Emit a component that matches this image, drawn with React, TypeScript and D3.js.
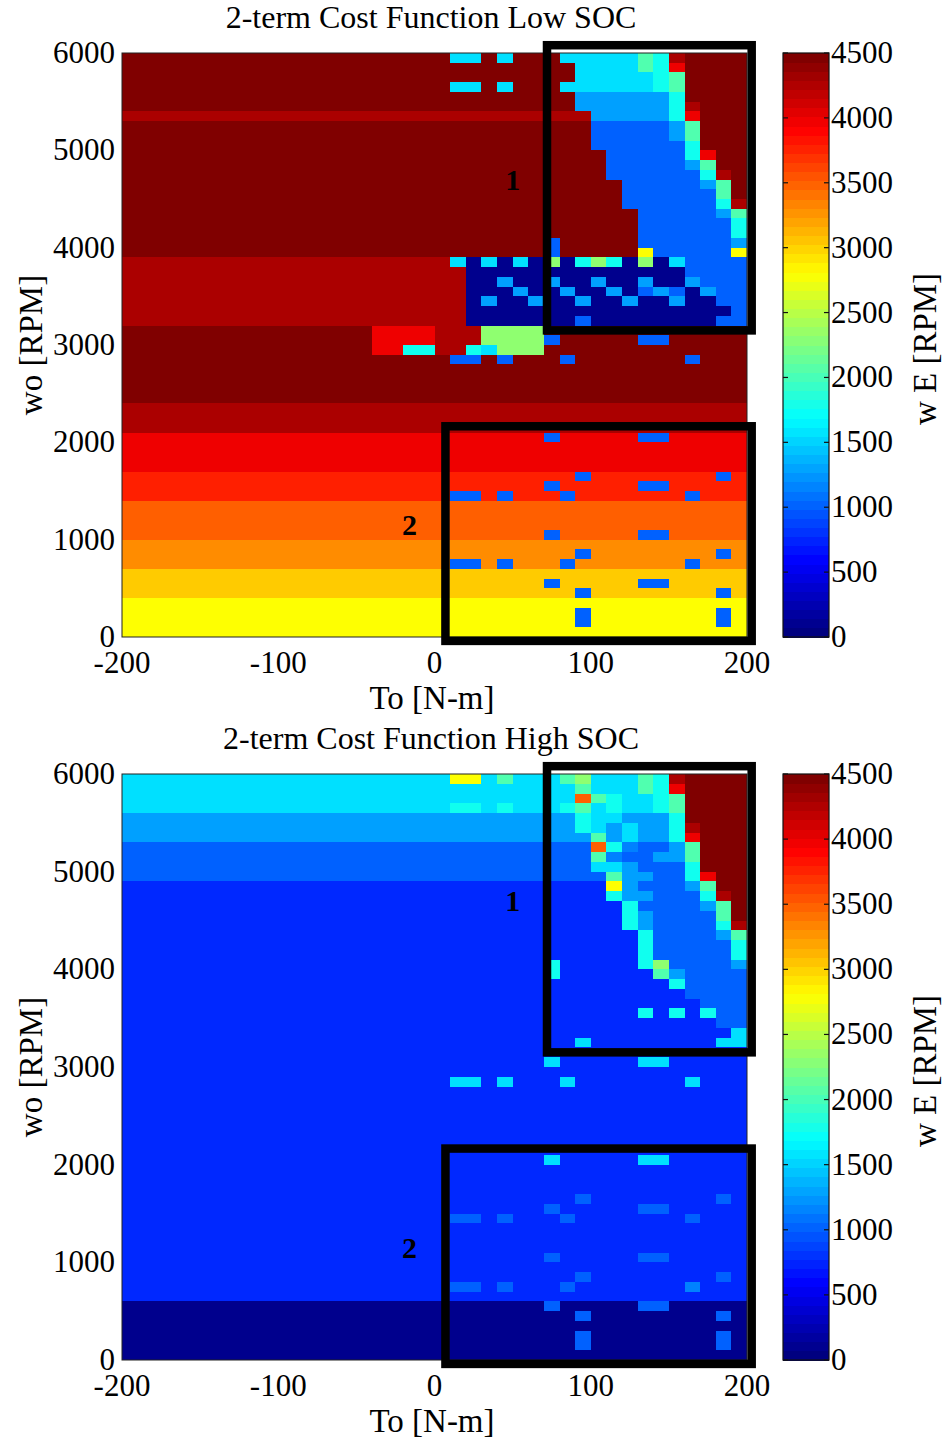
import React from "react";
import * as d3 from "d3";

// ---- bins (cell lower edges) ----
const torqueBins = [-200, -190, -180, -170, -160, -150, -140, -130, -120, -110, -100, -90, -80, -70, -60, -50, -40, -30, -20, -10, 0, 10, 20, 30, 40, 50, 60, 70, 80, 90, 100, 110, 120, 130, 140, 150, 160, 170, 180, 190];
const speedBins = [5900, 5800, 5700, 5600, 5500, 5400, 5300, 5200, 5100, 5000, 4900, 4800, 4700, 4600, 4500, 4400, 4300, 4200, 4100, 4000, 3900, 3800, 3700, 3600, 3500, 3400, 3300, 3200, 3100, 3000, 2900, 2800, 2700, 2600, 2500, 2400, 2300, 2200, 2100, 2000, 1900, 1800, 1700, 1600, 1500, 1400, 1300, 1200, 1100, 1000, 900, 800, 700, 600, 500, 400, 300, 200, 100, 0];
const TORQUE_STEP = 10;
const SPEED_STEP = 100;

const xTicks = [-200, -100, 0, 100, 200];
const yTicks = [0, 1000, 2000, 3000, 4000, 5000, 6000];
const cbTicks = [0, 500, 1000, 1500, 2000, 2500, 3000, 3500, 4000, 4500];

// code letter -> wE [RPM]
const codeValues: Record<string, number> = {
  D: 4500, R: 4310, r: 4010, o: 3800, O: 3520, a: 3320, A: 3040, Y: 2810,
  G: 2320, g: 2040, c: 1760, C: 1550, L: 1270, m: 1130, B: 990, b: 740, N: 60,
};

// rows top (5900) -> bottom (0); groups: -200..-110 | -100..-10 | 0..90 | 100..190
const lowSocGrid = [
  "DDDDDDDDDD DDDDDDDDDD DCCDCDDDCC CCCgcRDDDD",
  "DDDDDDDDDD DDDDDDDDDD DDDDDDDDDC CCCgcrDDDD",
  "DDDDDDDDDD DDDDDDDDDD DDDDDDDDDC CCCCcgDDDD",
  "DDDDDDDDDD DDDDDDDDDD DCCDCDDDCC CCCCcgDDDD",
  "DDDDDDDDDD DDDDDDDDDD DDDDDDDDDL LLLLLcDDDD",
  "DDDDDDDDDD DDDDDDDDDD DDDDDDDDDL LLLLLcRDDD",
  "RRRRRRRRRR RRRRRRRRRR RRRRRRRRRR LLLLLcrDDD",
  "DDDDDDDDDD DDDDDDDDDD DDDDDDDDDD BBBBBLgDDD",
  "DDDDDDDDDD DDDDDDDDDD DDDDDDDDDD BBBBBLgDDD",
  "DDDDDDDDDD DDDDDDDDDD DDDDDDDDDD BBBBBBcDDD",
  "DDDDDDDDDD DDDDDDDDDD DDDDDDDDDD DBBBBBcrDD",
  "DDDDDDDDDD DDDDDDDDDD DDDDDDDDDD DBBBBBLgDD",
  "DDDDDDDDDD DDDDDDDDDD DDDDDDDDDD DBBBBBBcRD",
  "DDDDDDDDDD DDDDDDDDDD DDDDDDDDDD DDBBBBBLgD",
  "DDDDDDDDDD DDDDDDDDDD DDDDDDDDDD DDBBBBBBgD",
  "DDDDDDDDDD DDDDDDDDDD DDDDDDDDDD DDBBBBBBcR",
  "DDDDDDDDDD DDDDDDDDDD DDDDDDDDDD DDDBBBBBLg",
  "DDDDDDDDDD DDDDDDDDDD DDDDDDDDDD DDDBBBBBBc",
  "DDDDDDDDDD DDDDDDDDDD DDDDDDDDDD DDDBBBBBBc",
  "DDDDDDDDDD DDDDDDDDDD DDDDDDDBDD DDDBBBBBBL",
  "DDDDDDDDDD DDDDDDDDDD DDDDDDDBDD DDDYBBBBBY",
  "RRRRRRRRRR RRRRRRRRRR RCNCNCNGNc GcNGNCBBBB",
  "RRRRRRRRRR RRRRRRRRRR RRNNNNNNNN NNNNNNBBBB",
  "RRRRRRRRRR RRRRRRRRRR RRNNLNNLNN LNNLNNLBBB",
  "RRRRRRRRRR RRRRRRRRRR RRNNNLNNLN NLNBLBNLBB",
  "RRRRRRRRRR RRRRRRRRRR RRNLNNLNNL NNLNNLNNBB",
  "RRRRRRRRRR RRRRRRRRRR RRNNNNNNNN NNNNNNNNNB",
  "RRRRRRRRRR RRRRRRRRRR RRNNNNNNNB NNNNNNNNBB",
  "DDDDDDDDDD DDDDDDrrrr RRRGGGGDDD DDDDDDDDDD",
  "DDDDDDDDDD DDDDDDrrrr RRRGGGGBDD DDDBBDDDDD",
  "DDDDDDDDDD DDDDDDrrcc RRcCGGGDDD DDDDDDDDDD",
  "DDDDDDDDDD DDDDDDDDDD DBBDBDDDBD DDDDDDBDDD",
  "DDDDDDDDDD DDDDDDDDDD DDDDDDDDDD DDDDDDDDDD",
  "DDDDDDDDDD DDDDDDDDDD DDDDDDDDDD DDDDDDDDDD",
  "DDDDDDDDDD DDDDDDDDDD DDDDDDDDDD DDDDDDDDDD",
  "DDDDDDDDDD DDDDDDDDDD DDDDDDDDDD DDDDDDDDDD",
  "RRRRRRRRRR RRRRRRRRRR RRRRRRRRRR RRRRRRRRRR",
  "RRRRRRRRRR RRRRRRRRRR RRRRRRRRRR RRRRRRRRRR",
  "RRRRRRRRRR RRRRRRRRRR RRRRRRRRRR RRRRRRRRRR",
  "rrrrrrrrrr rrrrrrrrrr rrrrrrrBrr rrrBBrrrrr",
  "rrrrrrrrrr rrrrrrrrrr rrrrrrrrrr rrrrrrrrrr",
  "rrrrrrrrrr rrrrrrrrrr rrrrrrrrrr rrrrrrrrrr",
  "rrrrrrrrrr rrrrrrrrrr rrrrrrrrrr rrrrrrrrrr",
  "oooooooooo oooooooooo oooooooooB ooooooooBo",
  "oooooooooo oooooooooo oooooooBoo oooBBooooo",
  "oooooooooo oooooooooo oBBoBoooBo ooooooBooo",
  "OOOOOOOOOO OOOOOOOOOO OOOOOOOOOO OOOOOOOOOO",
  "OOOOOOOOOO OOOOOOOOOO OOOOOOOOOO OOOOOOOOOO",
  "OOOOOOOOOO OOOOOOOOOO OOOOOOOOOO OOOOOOOOOO",
  "OOOOOOOOOO OOOOOOOOOO OOOOOOOBOO OOOBBOOOOO",
  "aaaaaaaaaa aaaaaaaaaa aaaaaaaaaa aaaaaaaaaa",
  "aaaaaaaaaa aaaaaaaaaa aaaaaaaaaB aaaaaaaaBa",
  "aaaaaaaaaa aaaaaaaaaa aBBaBaaaBa aaaaaaBaaa",
  "AAAAAAAAAA AAAAAAAAAA AAAAAAAAAA AAAAAAAAAA",
  "AAAAAAAAAA AAAAAAAAAA AAAAAAABAA AAABBAAAAA",
  "AAAAAAAAAA AAAAAAAAAA AAAAAAAAAB AAAAAAAABA",
  "YYYYYYYYYY YYYYYYYYYY YYYYYYYYYY YYYYYYYYYY",
  "YYYYYYYYYY YYYYYYYYYY YYYYYYYYYB YYYYYYYYBY",
  "YYYYYYYYYY YYYYYYYYYY YYYYYYYYYB YYYYYYYYBY",
  "YYYYYYYYYY YYYYYYYYYY YYYYYYYYYY YYYYYYYYYY",
];

const highSocGrid = [
  "CCCCCCCCCC CCCCCCCCCC CYYCgCCCgG CCCgcRDDDD",
  "CCCCCCCCCC CCCCCCCCCC CCCCCCCCCg CCCgcrDDDD",
  "CCCCCCCCCC CCCCCCCCCC CCCCCCCCCO gcCCcgDDDD",
  "CCCCCCCCCC CCCCCCCCCC CccCcCCCcg CcCCcgDDDD",
  "LLLLLLLLLL LLLLLLLLLL LLLLLLLLLc CCLLLcDDDD",
  "LLLLLLLLLL LLLLLLLLLL LLLLLLLLLc CLCLLcRDDD",
  "LLLLLLLLLL LLLLLLLLLL LLLLLLLLLL gLCLLcrDDD",
  "BBBBBBBBBB BBBBBBBBBB BBBBBBBBBB OcmBBLgDDD",
  "BBBBBBBBBB BBBBBBBBBB BBBBBBBBBB gmBBLLgDDD",
  "BBBBBBBBBB BBBBBBBBBB BBBBBBBBBB CCLBBBcDDD",
  "BBBBBBBBBB BBBBBBBBBB BBBBBBBBBB BgLLBBcrDD",
  "bbbbbbbbbb bbbbbbbbbb bbbbbbbbbb bYLBBBLgDD",
  "bbbbbbbbbb bbbbbbbbbb bbbbbbbbbb bcLLBBBcRD",
  "bbbbbbbbbb bbbbbbbbbb bbbbbbbbbb bbcBBBBLgD",
  "bbbbbbbbbb bbbbbbbbbb bbbbbbbbbb bbcLBBBBgD",
  "bbbbbbbbbb bbbbbbbbbb bbbbbbbbbb bbcLBBBBcR",
  "bbbbbbbbbb bbbbbbbbbb bbbbbbbbbb bbbcBBBBLg",
  "bbbbbbbbbb bbbbbbbbbb bbbbbbbbbb bbbcBBBBBc",
  "bbbbbbbbbb bbbbbbbbbb bbbbbbbbbb bbbcBBBBBc",
  "bbbbbbbbbb bbbbbbbbbb bbbbbbbcbb bbbcGBBBBL",
  "bbbbbbbbbb bbbbbbbbbb bbbbbbbcbb bbbbgLBBBB",
  "bbbbbbbbbb bbbbbbbbbb bbbbbbbbbb bbbbbcBBBB",
  "bbbbbbbbbb bbbbbbbbbb bbbbbbbbbb bbbbbbBBBB",
  "bbbbbbbbbb bbbbbbbbbb bbbbbbbbbb bbbbbbbBBB",
  "bbbbbbbbbb bbbbbbbbbb bbbbbbbbbb bbbcbcbcBB",
  "bbbbbbbbbb bbbbbbbbbb bbbbbbbbbb bbbbbbbbBB",
  "bbbbbbbbbb bbbbbbbbbb bbbbbbbbbb bbbbbbbbbC",
  "bbbbbbbbbb bbbbbbbbbb bbbbbbbbbC bbbbbbbbCC",
  "bbbbbbbbbb bbbbbbbbbb bbbbbbbbbb bbbbbbbbbb",
  "bbbbbbbbbb bbbbbbbbbb bbbbbbbCbb bbbCCbbbbb",
  "bbbbbbbbbb bbbbbbbbbb bbbbbbbbbb bbbbbbbbbb",
  "bbbbbbbbbb bbbbbbbbbb bCCbCbbbCb bbbbbbCbbb",
  "bbbbbbbbbb bbbbbbbbbb bbbbbbbbbb bbbbbbbbbb",
  "bbbbbbbbbb bbbbbbbbbb bbbbbbbbbb bbbbbbbbbb",
  "bbbbbbbbbb bbbbbbbbbb bbbbbbbbbb bbbbbbbbbb",
  "bbbbbbbbbb bbbbbbbbbb bbbbbbbbbb bbbbbbbbbb",
  "bbbbbbbbbb bbbbbbbbbb bbbbbbbbbb bbbbbbbbbb",
  "bbbbbbbbbb bbbbbbbbbb bbbbbbbbbb bbbbbbbbbb",
  "bbbbbbbbbb bbbbbbbbbb bbbbbbbbbb bbbbbbbbbb",
  "bbbbbbbbbb bbbbbbbbbb bbbbbbbCbb bbbCCbbbbb",
  "bbbbbbbbbb bbbbbbbbbb bbbbbbbbbb bbbbbbbbbb",
  "bbbbbbbbbb bbbbbbbbbb bbbbbbbbbb bbbbbbbbbb",
  "bbbbbbbbbb bbbbbbbbbb bbbbbbbbbb bbbbbbbbbb",
  "bbbbbbbbbb bbbbbbbbbb bbbbbbbbbB bbbbbbbbBb",
  "bbbbbbbbbb bbbbbbbbbb bbbbbbbBbb bbbBBbbbbb",
  "bbbbbbbbbb bbbbbbbbbb bBBbBbbbBb bbbbbbBbbb",
  "bbbbbbbbbb bbbbbbbbbb bbbbbbbbbb bbbbbbbbbb",
  "bbbbbbbbbb bbbbbbbbbb bbbbbbbbbb bbbbbbbbbb",
  "bbbbbbbbbb bbbbbbbbbb bbbbbbbbbb bbbbbbbbbb",
  "bbbbbbbbbb bbbbbbbbbb bbbbbbbBbb bbbBBbbbbb",
  "bbbbbbbbbb bbbbbbbbbb bbbbbbbbbb bbbbbbbbbb",
  "bbbbbbbbbb bbbbbbbbbb bbbbbbbbbB bbbbbbbbBb",
  "bbbbbbbbbb bbbbbbbbbb bBBbBbbbBb bbbbbbmbbb",
  "bbbbbbbbbb bbbbbbbbbb bbbbbbbbbb bbbbbbbbbb",
  "NNNNNNNNNN NNNNNNNNNN NNNNNNNBNN NNNBBNNNNN",
  "NNNNNNNNNN NNNNNNNNNN NNNNNNNNNB NNNNNNNNBN",
  "NNNNNNNNNN NNNNNNNNNN NNNNNNNNNN NNNNNNNNNN",
  "NNNNNNNNNN NNNNNNNNNN NNNNNNNNNB NNNNNNNNBN",
  "NNNNNNNNNN NNNNNNNNNN NNNNNNNNNB NNNNNNNNBN",
  "NNNNNNNNNN NNNNNNNNNN NNNNNNNNNN NNNNNNNNNN",
];

// annotation boxes in data units [torque0, torque1, speed0, speed1]
const regionBoxes = [
  { label: "1", t0: 72, t1: 203, w0: 3150, w1: 6080, lt: 50, lw: 4700 },
  { label: "2", t0: 7, t1: 203, w0: -40, w1: 2165, lt: -16, lw: 1150 },
];

const panels = [
  { title: "2-term Cost Function Low SOC", grid: lowSocGrid, top: 53, bottom: 637 },
  { title: "2-term Cost Function High SOC", grid: highSocGrid, top: 774, bottom: 1360 },
];

const FONT = "'Liberation Serif', 'Times New Roman', serif";
const X0 = 122;
const X1 = 747;
const CB0 = 783;
const CB1 = 829;
const VMAX = 4500;

function jet(t: number): string {
  const c = (v: number) => Math.max(0, Math.min(1, v));
  const r = c(Math.min(4 * t - 1.5, -4 * t + 4.5));
  const g = c(Math.min(4 * t - 0.5, -4 * t + 3.5));
  const b = c(Math.min(4 * t + 0.5, -4 * t + 2.5));
  return d3.rgb(r * 255, g * 255, b * 255).formatHex();
}

function Panel({ p, idx }: { p: typeof panels[number]; idx: number }) {
  const x = d3.scaleLinear().domain([-200, 200]).range([X0, X1]);
  const y = d3.scaleLinear().domain([0, 6000]).range([p.bottom, p.top]);
  const cb = d3.scaleLinear().domain([0, VMAX]).range([p.bottom, p.top]);
  const clipId = `clip${idx}`;
  const cells: React.ReactNode[] = [];
  p.grid.forEach((rowStr, ri) => {
    const row = rowStr.replace(/ /g, "");
    const s = speedBins[ri];
    torqueBins.forEach((t, ci) => {
      const v = codeValues[row[ci]];
      const xa = x(t);
      const xb = x(t + TORQUE_STEP);
      const ya = y(s + SPEED_STEP);
      const yb = y(s);
      cells.push(
        <rect key={`${ri}-${ci}`} x={xa} y={ya} width={xb - xa + 0.6} height={yb - ya + 0.6} fill={jet(v / VMAX)} />
      );
    });
  });
  const nLevels = 64;
  const levels = d3.range(nLevels);
  const midY = (p.top + p.bottom) / 2;
  return (
    <g>
      <defs>
        <clipPath id={clipId}>
          <rect x={X0} y={p.top} width={X1 - X0} height={p.bottom - p.top} />
        </clipPath>
      </defs>
      <g clipPath={`url(#${clipId})`} shapeRendering="crispEdges">{cells}</g>
      <rect x={X0} y={p.top} width={X1 - X0} height={p.bottom - p.top} fill="none" stroke="#222" strokeWidth={1} />
      <text x={431} y={p.top - 25} textAnchor="middle" fontFamily={FONT} fontSize={32}>{p.title}</text>
      {xTicks.map((v) => (
        <text key={`xt${v}`} x={x(v)} y={p.bottom + 36} textAnchor="middle" fontFamily={FONT} fontSize={31}>{v}</text>
      ))}
      {yTicks.map((v) => (
        <text key={`yt${v}`} x={115} y={y(v) + 10} textAnchor="end" fontFamily={FONT} fontSize={31}>{v}</text>
      ))}
      <text x={432} y={p.bottom + 72} textAnchor="middle" fontFamily={FONT} fontSize={33}>To [N-m]</text>
      <text transform={`translate(42,${midY}) rotate(-90)`} textAnchor="middle" fontFamily={FONT} fontSize={33}>wo [RPM]</text>
      {regionBoxes.map((b) => (
        <g key={`box${b.label}`}>
          <rect x={x(b.t0)} y={y(b.w1)} width={x(b.t1) - x(b.t0)} height={y(b.w0) - y(b.w1)} fill="none" stroke="#000" strokeWidth={8.5} />
          <text x={x(b.lt)} y={y(b.lw) + 10} textAnchor="middle" fontFamily={FONT} fontSize={30} fontWeight="bold">{b.label}</text>
        </g>
      ))}
      {/* colorbar */}
      <g shapeRendering="crispEdges">
        {levels.map((k) => {
          const v0 = (k / nLevels) * VMAX;
          const v1 = ((k + 1) / nLevels) * VMAX;
          return <rect key={`cb${k}`} x={CB0} y={cb(v1)} width={CB1 - CB0} height={cb(v0) - cb(v1) + 0.6} fill={jet(k / (nLevels - 1))} />;
        })}
      </g>
      <rect x={CB0} y={p.top} width={CB1 - CB0} height={p.bottom - p.top} fill="none" stroke="#111" strokeWidth={1.2} />
      {cbTicks.map((v) => (
        <g key={`cbt${v}`}>
          <line x1={CB0} x2={CB0 + 5} y1={cb(v)} y2={cb(v)} stroke="#111" strokeWidth={1.2} />
          <line x1={CB1 - 5} x2={CB1} y1={cb(v)} y2={cb(v)} stroke="#111" strokeWidth={1.2} />
          <text x={831} y={cb(v) + 10} textAnchor="start" fontFamily={FONT} fontSize={31}>{v}</text>
        </g>
      ))}
      <text transform={`translate(936,${midY + 4}) rotate(-90)`} textAnchor="middle" fontFamily={FONT} fontSize={33}>w E [RPM]</text>
    </g>
  );
}

export default function App() {
  return (
    <svg width={943} height={1441} style={{ position: "absolute", left: 0, top: 0, background: "#fff" }}>
      <rect x={0} y={0} width={943} height={1441} fill="#fff" />
      {panels.map((p, i) => (
        <Panel key={i} p={p} idx={i} />
      ))}
    </svg>
  );
}
